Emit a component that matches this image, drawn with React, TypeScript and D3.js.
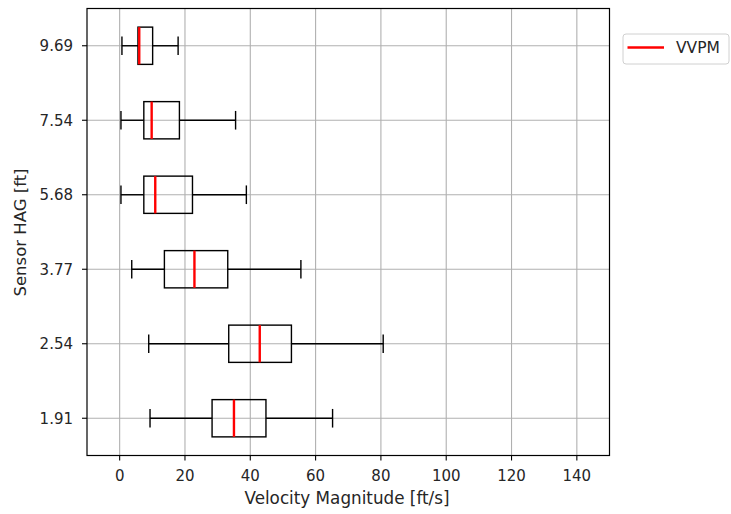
import React from "react";
import * as d3 from "d3";

const categories = ["1.91", "2.54", "3.77", "5.68", "7.54", "9.69"];
const whiskerLow = [9.3, 8.9, 3.7, 0.4, 0.4, 0.7];
const q1 = [28.3, 33.4, 13.7, 7.4, 7.4, 5.6];
const median = [35.0, 42.9, 22.9, 10.9, 9.8, 6.0];
const q3 = [44.8, 52.6, 33.1, 22.3, 18.3, 10.1];
const whiskerHigh = [65.2, 80.7, 55.5, 38.8, 35.5, 17.9];
const xTicks = [0, 20, 40, 60, 80, 100, 120, 140];
const legendLabel = "VVPM";

const W = 731;
const H = 514;
const M = { left: 87, right: 609.5, top: 8.5, bottom: 455.5 };
const FONT = "DejaVu Sans, sans-serif";
const TICK_FS = 15;

export default function App() {
  const x = d3.scaleLinear().domain([-10, 150]).range([M.left, M.right]);
  const y = d3.scaleLinear().domain([0.5, 6.5]).range([M.bottom, M.top]);
  const boxH = y(0) - y(0.5);
  const capH = boxH / 2;
  const grid = "#b0b0b0";
  const lw = 1.4;

  return (
    <svg width={W} height={H} style={{ position: "absolute", left: 0, top: 0 }} fontFamily={FONT}>
      <rect width={W} height={H} fill="#fff" />
      {/* grid */}
      {xTicks.map((t) => (
        <line key={"gx" + t} x1={x(t)} x2={x(t)} y1={M.top} y2={M.bottom} stroke={grid} strokeWidth={1.1} />
      ))}
      {categories.map((c, i) => (
        <line key={"gy" + c} x1={M.left} x2={M.right} y1={y(i + 1)} y2={y(i + 1)} stroke={grid} strokeWidth={1.1} />
      ))}
      {/* boxes */}
      {categories.map((c, i) => {
        const cy = y(i + 1);
        return (
          <g key={"b" + c}>
            <line x1={x(whiskerLow[i])} x2={x(q1[i])} y1={cy} y2={cy} stroke="#000" strokeWidth={lw} />
            <line x1={x(q3[i])} x2={x(whiskerHigh[i])} y1={cy} y2={cy} stroke="#000" strokeWidth={lw} />
            <line x1={x(whiskerLow[i])} x2={x(whiskerLow[i])} y1={cy - capH / 2} y2={cy + capH / 2} stroke="#000" strokeWidth={lw} />
            <line x1={x(whiskerHigh[i])} x2={x(whiskerHigh[i])} y1={cy - capH / 2} y2={cy + capH / 2} stroke="#000" strokeWidth={lw} />
            <rect x={x(q1[i])} y={cy - boxH / 2} width={x(q3[i]) - x(q1[i])} height={boxH} fill="none" stroke="#000" strokeWidth={lw} />
            <line x1={x(median[i])} x2={x(median[i])} y1={cy - boxH / 2} y2={cy + boxH / 2} stroke="#ff0000" strokeWidth={2.4} />
          </g>
        );
      })}
      {/* frame */}
      <rect x={M.left} y={M.top} width={M.right - M.left} height={M.bottom - M.top} fill="none" stroke="#000" strokeWidth={1.2} />
      {/* x ticks */}
      {xTicks.map((t) => (
        <g key={"xt" + t}>
          <line x1={x(t)} x2={x(t)} y1={M.bottom} y2={M.bottom + 5} stroke="#000" strokeWidth={1.1} />
          <text x={x(t)} y={481} textAnchor="middle" fontSize={TICK_FS} fill="#262626">
            {t}
          </text>
        </g>
      ))}
      {/* y ticks */}
      {categories.map((c, i) => (
        <g key={"yt" + c}>
          <line x1={M.left - 5} x2={M.left} y1={y(i + 1)} y2={y(i + 1)} stroke="#000" strokeWidth={1.1} />
          <text x={73} y={y(i + 1)} dy="0.36em" textAnchor="end" fontSize={TICK_FS} fill="#262626">
            {c}
          </text>
        </g>
      ))}
      <text x={347} y={504} textAnchor="middle" fontSize={16.8} fill="#262626">
        Velocity Magnitude [ft/s]
      </text>
      <text transform={`translate(26,232.5) rotate(-90)`} textAnchor="middle" fontSize={16.5} fill="#262626">
        Sensor HAG [ft]
      </text>
      {/* legend */}
      <rect x={623} y={34} width={106} height={30} rx={3} fill="#fff" stroke="#d0d0d0" strokeWidth={1} />
      <line x1={627.5} x2={664} y1={47.5} y2={47.5} stroke="#ff0000" strokeWidth={2.4} />
      <text x={676} y={47.5} dy="0.36em" fontSize={15.5} fill="#262626">
        {legendLabel}
      </text>
    </svg>
  );
}
